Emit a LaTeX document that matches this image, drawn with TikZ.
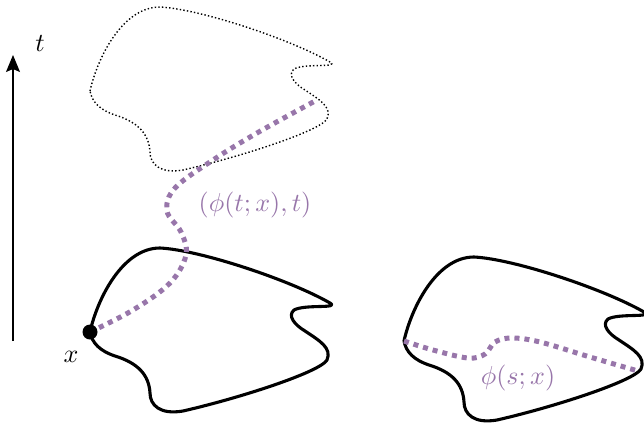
\documentclass[tikz,border=0pt]{standalone}
\usetikzlibrary{arrows.meta}
\definecolor{flow}{RGB}{152,118,170}
\tikzset{
  blob/.style={line width=3.1pt, line join=round},
  ghost/.style={line width=1.4pt, dash pattern=on 1.4pt off 2.2pt},
  traj/.style={flow, line width=5pt, dash pattern=on 5pt off 5pt},
  lab/.style={scale=2.6, inner sep=0pt},
  axis/.style={line width=1.3pt, -{Stealth[length=17pt, width=14pt, inset=3pt]}},
}
\begin{document}
\begin{tikzpicture}[x=1pt,y=-1pt]
\useasboundingbox (0,0) rectangle (644,431);
% shapes: bottom-left, top (dotted), right
\foreach \dx/\dy/\sty in {0/0/blob, 0/-241/ghost, 314/9/blob}{
  \draw[\sty, shift={(\dx,\dy)}]
    (90,332) .. controls (97,300) and (122,248) .. (160,248)
    .. controls (200,250) and (290,280) .. (330,303)
    .. controls (340,309) and (305,304) .. (294,310)
    .. controls (287,316) and (295,325) .. (305,331)
    .. controls (320,341) and (332,348) .. (327,360)
    .. controls (320,372) and (240,398) .. (183,411)
    .. controls (160,415) and (150,405) .. (150,393)
    .. controls (149,375) and (138,363) .. (115,356)
    .. controls (100,351) and (92,343) .. (90,332) -- cycle;
}
% named points
\coordinate (xp) at (90,332);
\coordinate (tend) at (315,101);
\coordinate (rs) at (404,341);
\coordinate (re) at (638,371);
% trajectories
\draw[traj] plot[smooth, tension=0.6] coordinates {
  (xp) (133,310) (170,283) (186,255) (181,232) (167,211) (175,188) (213,160) (257,133) (tend)};
\draw[traj] plot[smooth, tension=0.6] coordinates {
  (rs) (433,350) (468,358) (485,354) (495,342) (512,338) (540,342) (590,357) (re)};
\node[circle, fill=black, minimum size=15pt, inner sep=0pt] (xdot) at (xp) {};
% time axis
\coordinate (a0) at (13,341);
\coordinate (a1) at (13,55);
\draw[axis] (a0) -- (a1);
% labels
\node[lab] (tl) at (40,44) {$t$};
\node[lab] (xl) at (71,357) {$x$};
\node[lab, text=flow] (fl) at (255,205) {$(\phi(t;x),t)$};
\node[lab, text=flow] (sl) at (518,378) {$\phi(s;x)$};
\end{tikzpicture}
\end{document}
